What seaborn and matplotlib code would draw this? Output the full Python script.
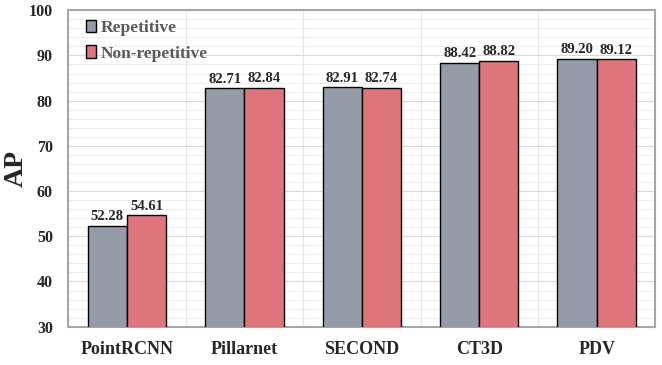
import pandas as pd
import matplotlib.pyplot as plt
from matplotlib.ticker import MultipleLocator
import seaborn as sns

# Data
models = ["PointRCNN", "Pillarnet", "SECOND", "CT3D", "PDV"]
repetitive = [52.28, 82.71, 82.91, 88.42, 89.20]
non_repetitive = [54.61, 82.84, 82.74, 88.82, 89.12]
series = ["Repetitive", "Non-repetitive"]
colors = ["#959CA8", "#DE757C"]

df = pd.DataFrame({
    "model": models * 2,
    "AP": repetitive + non_repetitive,
    "series": [series[0]] * len(models) + [series[1]] * len(models),
})

sns.set_style("white")
plt.rcParams["font.family"] = ["Liberation Serif", "DejaVu Serif"]
plt.rcParams["font.weight"] = "bold"

fig, ax = plt.subplots(figsize=(6.62, 3.65), dpi=100)

sns.barplot(
    data=df, x="model", y="AP", hue="series",
    palette=colors, width=0.667, edgecolor="black", linewidth=1.0,
    saturation=1, ax=ax, zorder=3,
)

ax.set_ylim(30, 100)
ax.set_xlim(-0.5, len(models) - 0.5)
ax.yaxis.set_major_locator(MultipleLocator(10))
ax.yaxis.set_minor_locator(MultipleLocator(2))

# Grid: horizontal major/minor, vertical at category boundaries
ax.yaxis.grid(True, which="major", color="#D9D9D9", linewidth=0.8, zorder=0)
ax.yaxis.grid(True, which="minor", color="#EBEBEB", linewidth=0.6, zorder=0)
for b in range(1, len(models)):
    ax.axvline(b - 0.5, color="#E6E6E6", linewidth=0.8, zorder=0)

ax.tick_params(axis="y", which="both", length=0, labelsize=11.5, pad=11)
ax.tick_params(axis="x", which="both", length=0, labelsize=13, pad=10)
for lab in ax.get_xticklabels() + ax.get_yticklabels():
    lab.set_fontweight("bold")

ax.set_xlabel("")
ax.set_ylabel("AP", fontsize=20, fontweight="bold")
ax.yaxis.set_label_coords(-0.068, 0.5)

for sp in ax.spines.values():
    sp.set_color("#A6A6A6")
    sp.set_linewidth(1.5)

# Value labels
for cont in ax.containers:
    ax.bar_label(cont, fmt="%.2f", padding=2, fontsize=10.5, fontweight="bold")

leg = ax.legend(
    loc="upper left", frameon=False, fontsize=12.5, handlelength=0.6,
    handleheight=0.7, handletextpad=0.3, labelspacing=0.55,
    bbox_to_anchor=(0.0, 1.025), borderaxespad=0.6, borderpad=0.4,
)
for t in leg.get_texts():
    t.set_color("#595959")
    t.set_fontweight("bold")
for h in leg.legend_handles:
    h.set_edgecolor("black")
    h.set_linewidth(1.0)

plt.subplots_adjust(left=0.103, right=0.99, top=0.972, bottom=0.105)

fig.savefig("out.png", dpi=100)
